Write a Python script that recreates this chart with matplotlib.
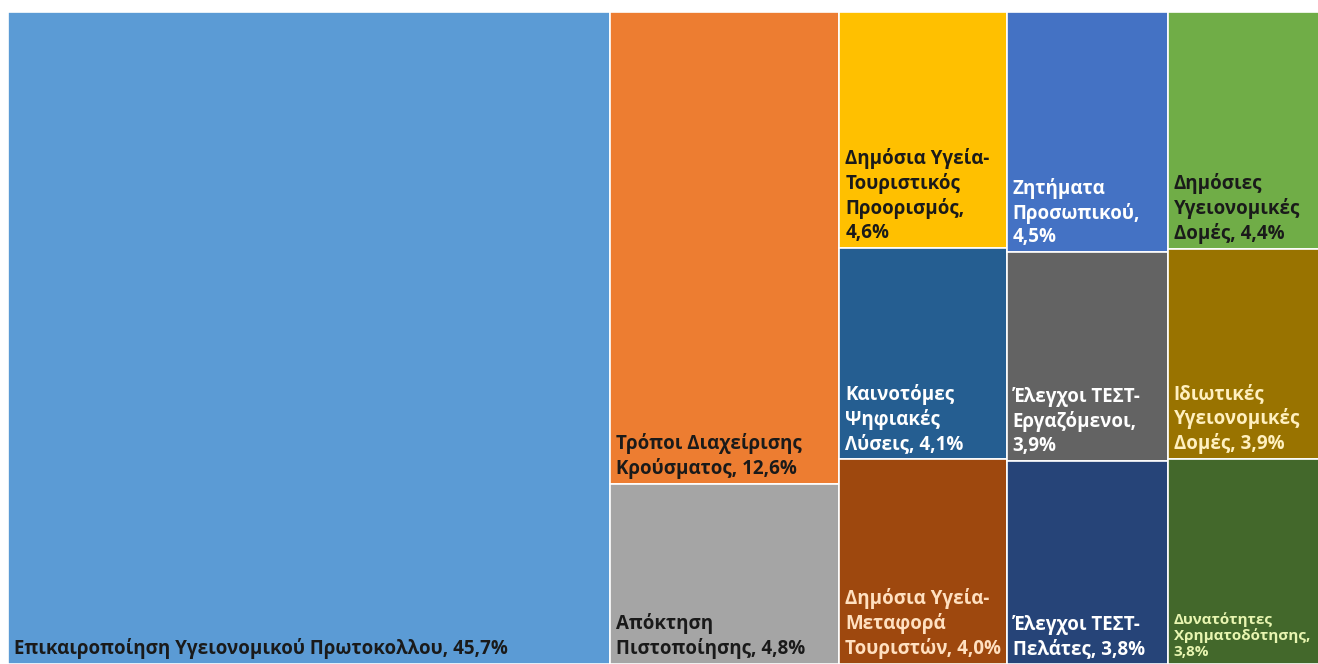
import matplotlib.pyplot as plt
from matplotlib.patches import Rectangle

plt.rcParams['font.family'] = ['Open Sans', 'DejaVu Sans']

# Topics and their share (%)
names = ['Επικαιροποίηση Υγειονομικού Πρωτοκολλου',
         'Τρόποι Διαχείρισης\nΚρούσματος',
         'Απόκτηση\nΠιστοποίησης',
         'Δημόσια Υγεία-\nΤουριστικός\nΠροορισμός',
         'Ζητήματα\nΠροσωπικού',
         'Δημόσιες\nΥγειονομικές\nΔομές',
         'Καινοτόμες\nΨηφιακές\nΛύσεις',
         'Έλεγχοι ΤΕΣΤ-\nΕργαζόμενοι',
         'Ιδιωτικές\nΥγειονομικές\nΔομές',
         'Δημόσια Υγεία-\nΜεταφορά\nΤουριστών',
         'Έλεγχοι ΤΕΣΤ-\nΠελάτες',
         'Δυνατότητες\nΧρηματοδότησης']
values = [45.7, 12.6, 4.8, 4.6, 4.5, 4.4, 4.1, 3.9, 3.9, 4.0, 3.8, 3.8]
# separator between the name and the percentage
seps = [', ', ', ', ', ', ',\n', ',\n', ', ', ', ', ',\n', ', ', ', ', ', ', ',\n']

colors = ['#5B9BD5', '#ED7D31', '#A5A5A5', '#FFC000', '#4472C4', '#70AD47',
          '#255E91', '#636363', '#997300', '#9E480E', '#264478', '#43682B']
text_colors = ['#1a1a1a', '#1a1a1a', '#1a1a1a', '#1a1a1a', '#ffffff', '#1a1a1a',
               '#ffffff', '#ffffff', '#fff0c0', '#ffe0c0', '#ffffff', '#e8f5b0']
font_sizes = [13.5] * 11 + [11]
line_spacings = [1.25] * 11 + [1.15]

# columns of the treemap, each a list of item indices stacked top to bottom
columns = [[0], [1, 2], [3, 6, 9], [4, 7, 10], [5, 8, 11]]

total = sum(values)

fig = plt.figure(figsize=(13.18, 6.64), dpi=100)
# treemap runs a bit past the right edge of the figure
ax = fig.add_axes([8 / 1318, 0, 1319 / 1318, 652 / 664])
ax.set_xlim(0, total)
ax.set_ylim(1, 0)
ax.axis('off')

x = 0
for col in columns:
    width = sum(values[i] for i in col)
    y = 0
    for i in col:
        h = values[i] / width
        ax.add_patch(Rectangle((x, y), width, h, facecolor=colors[i],
                               edgecolor='white', linewidth=1.2))
        label = names[i] + seps[i] + f'{values[i]:.1f}'.replace('.', ',') + '%'
        ax.annotate(label, xy=(x, y + h), xytext=(6, 5), textcoords='offset pixels',
                    ha='left', va='bottom', fontsize=font_sizes[i], fontweight='bold',
                    color=text_colors[i], linespacing=line_spacings[i])
        y += h
    x += width

fig.savefig('out.png', dpi=100)
